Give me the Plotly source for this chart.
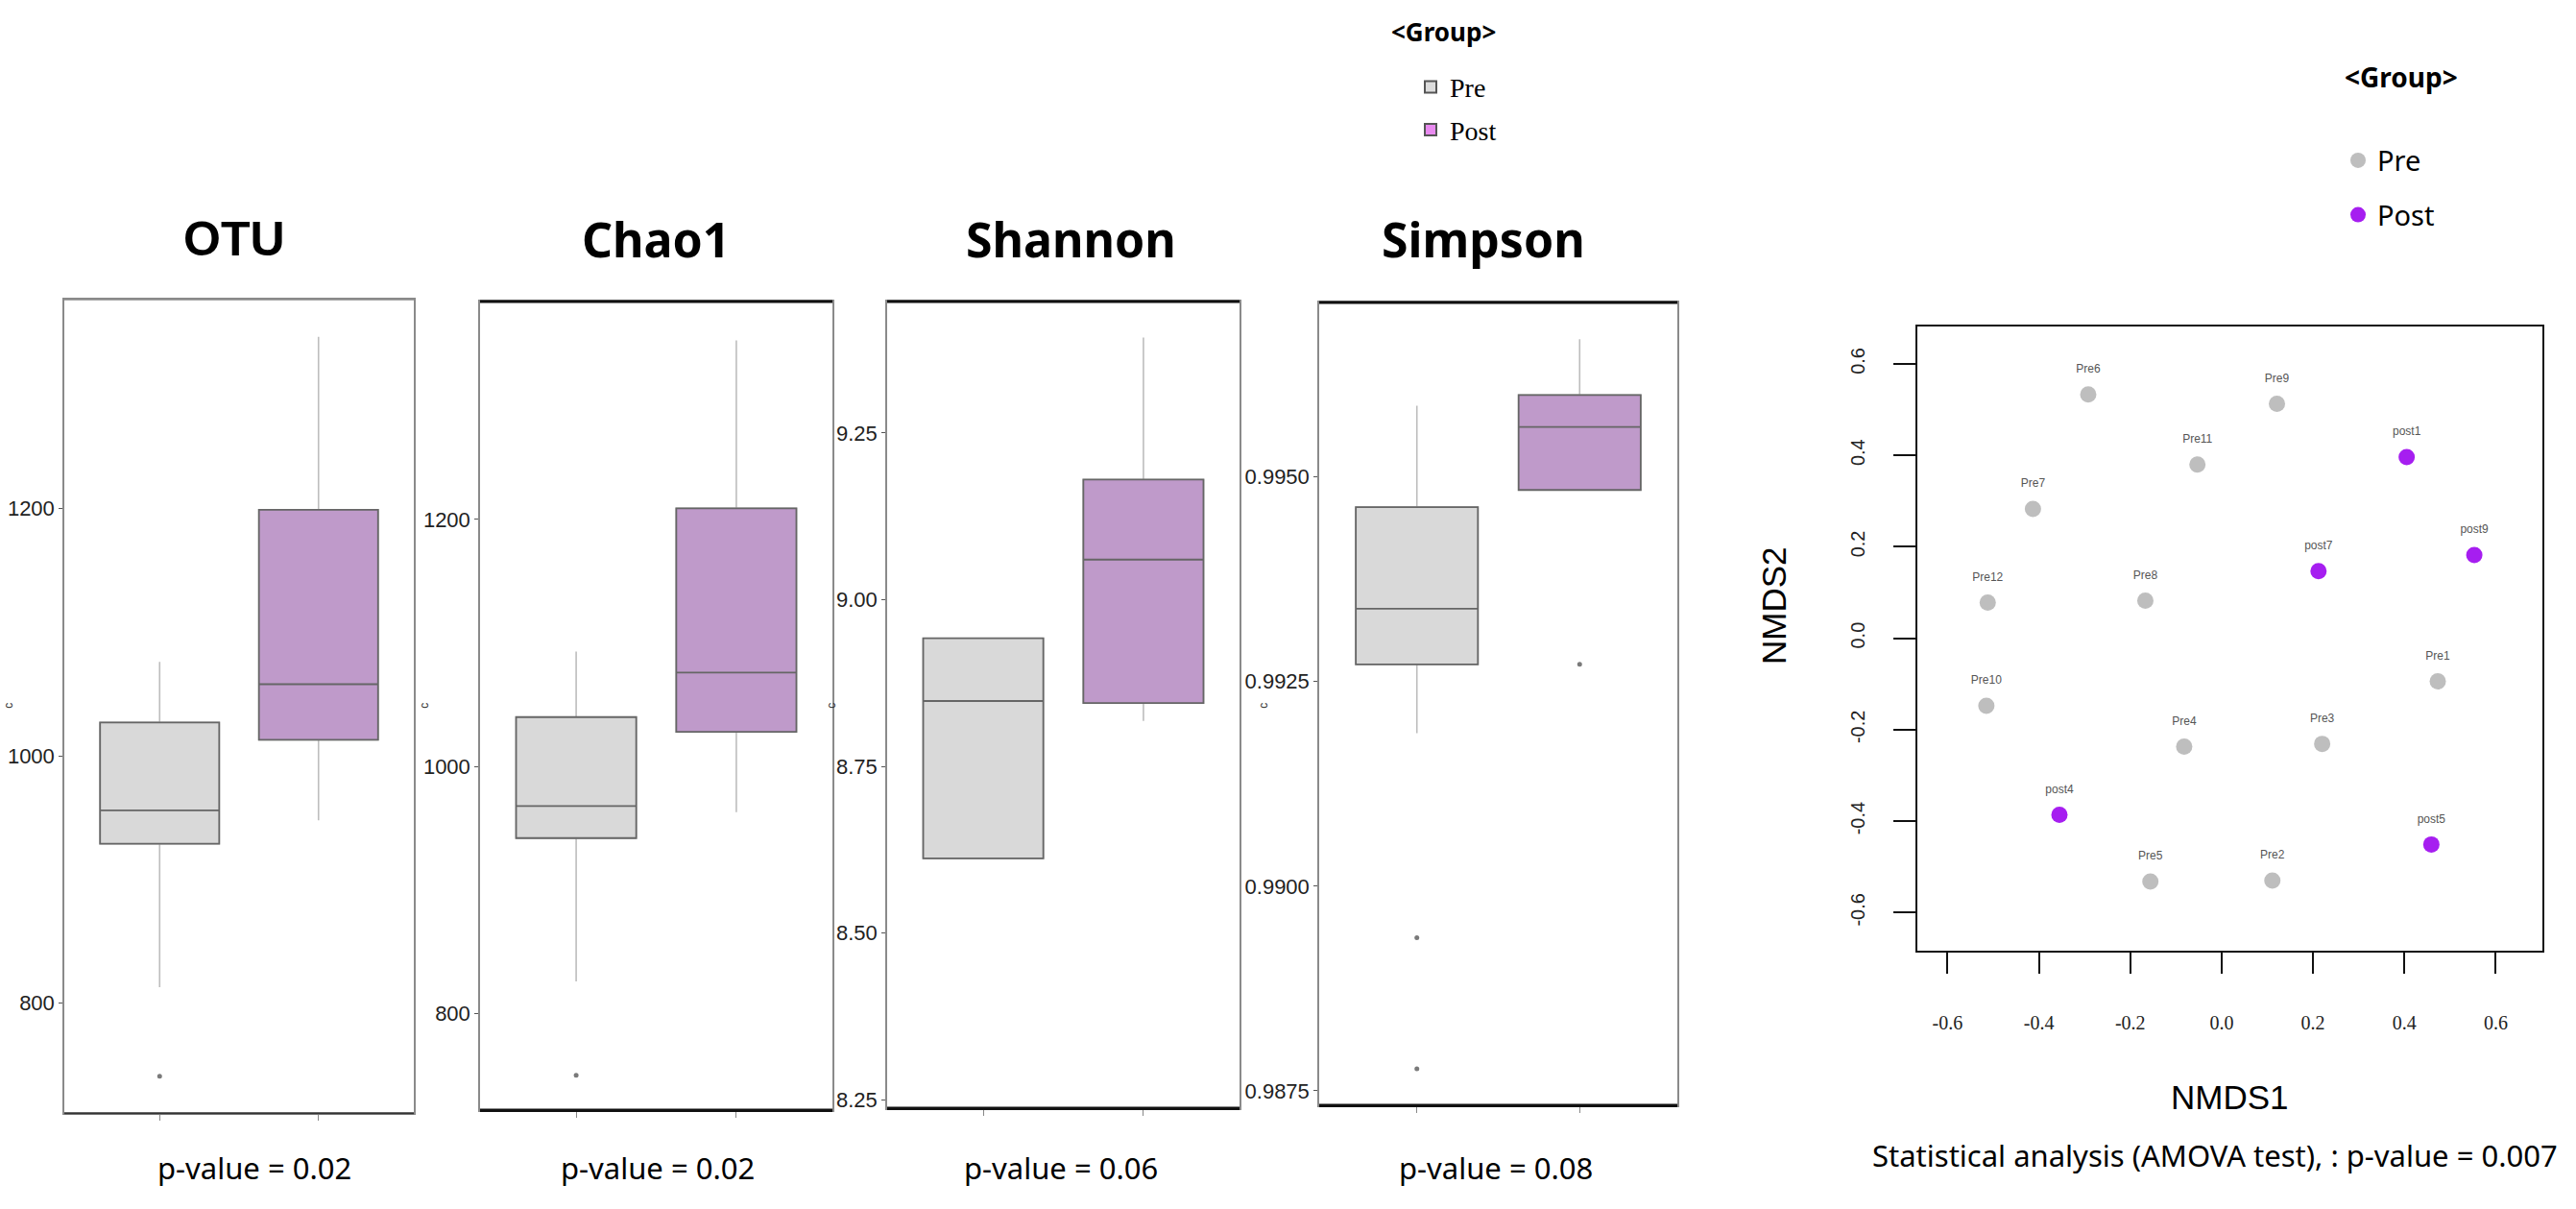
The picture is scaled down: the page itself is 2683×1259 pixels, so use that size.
import plotly.graph_objects as go

# ---------------- data ----------------
groups = ["Pre", "Post"]
metrics = ["OTU", "Chao1", "Shannon", "Simpson"]
p_values = ["0.02", "0.02", "0.06", "0.08"]

# box statistics per metric: [Pre, Post]
otu_q1 = [929, 1013]
otu_median = [956, 1058]
otu_q3 = [1027, 1199]
otu_lower = [813, 948]
otu_upper = [1076, 1339]
otu_outliers = [[741], []]

chao1_q1 = [942, 1028]
chao1_median = [968, 1076]
chao1_q3 = [1040, 1209]
chao1_lower = [826, 963]
chao1_upper = [1093, 1345]
chao1_outliers = [[750], []]

shannon_q1 = [8.612, 8.845]
shannon_median = [8.848, 9.060]
shannon_q3 = [8.942, 9.180]
shannon_lower = [8.612, 8.818]
shannon_upper = [8.942, 9.393]
shannon_outliers = [[], []]

simpson_q1 = [0.99271, 0.99484]
simpson_median = [0.99339, 0.99561]
simpson_q3 = [0.99463, 0.99600]
simpson_lower = [0.99187, 0.99484]
simpson_upper = [0.99587, 0.99668]
simpson_outliers = [[0.98937, 0.98777], [0.99271]]

otu_ticks = [800, 1000, 1200]
chao1_ticks = [800, 1000, 1200]
shannon_ticks = [8.25, 8.50, 8.75, 9.00, 9.25]
shannon_ticklabels = ["8.25", "8.50", "8.75", "9.00", "9.25"]
simpson_ticks = [0.9875, 0.9900, 0.9925, 0.9950]
simpson_ticklabels = ["0.9875", "0.9900", "0.9925", "0.9950"]

# NMDS ordination
nmds_labels = ["Pre6", "Pre7", "Pre12", "Pre8", "Pre9", "Pre11", "Pre1", "Pre10",
               "Pre4", "Pre3", "Pre5", "Pre2",
               "post1", "post7", "post9", "post4", "post5"]
nmds_group = ["Pre"] * 12 + ["Post"] * 5
nmds1 = [-0.292, -0.413, -0.512, -0.167, 0.121, -0.053, 0.473, -0.515,
         -0.082, 0.220, -0.156, 0.111,
         0.405, 0.212, 0.553, -0.355, 0.459]
nmds2 = [0.533, 0.283, 0.078, 0.082, 0.513, 0.380, -0.094, -0.148,
         -0.237, -0.231, -0.532, -0.530,
         0.396, 0.147, 0.182, -0.386, -0.451]
nmds_ticks = [-0.6, -0.4, -0.2, 0.0, 0.2, 0.4, 0.6]
nmds_ticklabels = ["-0.6", "-0.4", "-0.2", "0.0", "0.2", "0.4", "0.6"]

# ---------------- layout helpers ----------------
W, H = 2683, 1259
def px(x):
    return x / W
def py(y):
    return 1 - y / H

box_fill = {"Pre": "#D9D9D9", "Post": "#BF9ACA"}
legend_fill = {"Pre": "#DCDCDC", "Post": "#E98AF0"}
pt_color = {"Pre": "#BEBEBE", "Post": "#A61EF0"}

stats = [
    (otu_q1, otu_median, otu_q3, otu_lower, otu_upper, otu_outliers),
    (chao1_q1, chao1_median, chao1_q3, chao1_lower, chao1_upper, chao1_outliers),
    (shannon_q1, shannon_median, shannon_q3, shannon_lower, shannon_upper, shannon_outliers),
    (simpson_q1, simpson_median, simpson_q3, simpson_lower, simpson_upper, simpson_outliers),
]
panel_px = [  # left, right, top, bottom (pixels)
    (67, 431, 313, 1163),
    (500, 867, 315, 1160),
    (924, 1291, 315, 1158),
    (1374, 1747, 316, 1155),
]
yranges = [[711, 1369], [721.5, 1376.5], [8.237, 9.447], [0.98732, 0.99713]]
ytickvals = [otu_ticks, chao1_ticks, shannon_ticks, simpson_ticks]
yticktext = [[str(t) for t in otu_ticks], [str(t) for t in chao1_ticks],
             shannon_ticklabels, simpson_ticklabels]
title_x = [244, 683, 1115, 1545]
title_fonts = ["Liberation Sans", "Noto Sans", "Noto Sans", "Noto Sans"]
pval_x = [265, 685, 1105, 1558]

fig = go.Figure()
layout = {}
annotations = []
shapes = []

def note(text, x, y, size, family="Noto Sans", weight="normal", angle=0, color="black"):
    annotations.append(dict(text=text, x=px(x), y=py(y), xref="paper", yref="paper",
                            showarrow=False, xanchor="center", yanchor="middle",
                            textangle=angle,
                            font=dict(family=family, size=size, color=color, weight=weight)))

for i in range(4):
    q1, med, q3, lo, hi, outl = stats[i]
    ax = "" if i == 0 else str(i + 1)
    xa, ya = "x" + ax, "y" + ax
    for j, g in enumerate(groups):
        # whiskers (light)
        fig.add_trace(go.Box(
            x=[g], q1=[q1[j]], median=[med[j]], q3=[q3[j]],
            lowerfence=[lo[j]], upperfence=[hi[j]],
            fillcolor=box_fill[g], line=dict(color="#BDBDBD", width=1.6),
            whiskerwidth=0, width=0.75, boxpoints=False,
            xaxis=xa, yaxis=ya, showlegend=False, hoverinfo="skip"))
        # box body (darker outline)
        fig.add_trace(go.Box(
            x=[g], q1=[q1[j]], median=[med[j]], q3=[q3[j]],
            lowerfence=[q1[j]], upperfence=[q3[j]],
            fillcolor=box_fill[g], line=dict(color="#666666", width=1.8),
            whiskerwidth=0, width=0.75, boxpoints=False,
            xaxis=xa, yaxis=ya, showlegend=False))
        if outl[j]:
            fig.add_trace(go.Scatter(
                x=[g] * len(outl[j]), y=outl[j], mode="markers",
                marker=dict(color="#7A7A7A", size=5),
                xaxis=xa, yaxis=ya, showlegend=False))
    l, r, t, b = panel_px[i]
    layout["xaxis" + ax] = dict(
        domain=[px(l), px(r)], anchor=ya, type="category",
        categoryorder="array", categoryarray=groups, range=[-0.6, 1.6],
        showticklabels=False, ticks="outside", ticklen=6, tickcolor="#888888",
        showline=True, mirror=True, linecolor="#8A8A8A", linewidth=1.5,
        showgrid=False, zeroline=False, fixedrange=True)
    layout["yaxis" + ax] = dict(
        domain=[py(b), py(t)], anchor=xa, range=yranges[i],
        tickvals=ytickvals[i], ticktext=yticktext[i],
        ticks="outside", ticklen=4, tickcolor="#555555",
        tickfont=dict(family="Liberation Sans Narrow, Liberation Sans", size=22, color="#222222"),
        showline=True, mirror=True, linecolor="#8A8A8A", linewidth=1.5,
        showgrid=False, zeroline=False, fixedrange=True)
    # black top / bottom edges
    top_col = "#8A8A8A" if i == 0 else "#111111"
    shapes.append(dict(type="line", xref=xa + " domain", yref=ya + " domain",
                       x0=0, x1=1, y0=1, y1=1,
                       line=dict(color=top_col, width=1.5 if i == 0 else 3)))
    shapes.append(dict(type="line", xref=xa + " domain", yref=ya + " domain",
                       x0=0, x1=1, y0=0, y1=0,
                       line=dict(color="#333333" if i == 0 else "#111111",
                                 width=2 if i == 0 else 3.5)))
    note(metrics[i], title_x[i], 250, 50, family=title_fonts[i], weight="bold")
    note("p-value = " + p_values[i], pval_x[i], 1220, 31)
    note("c", l - 58, 737, 12, family="Liberation Sans", angle=-90, color="#333333")

# legend-only box traces on a hidden axis
for g in groups:
    fig.add_trace(go.Box(
        x=[g], q1=[0], median=[0], q3=[0], lowerfence=[0], upperfence=[0],
        fillcolor=legend_fill[g], line=dict(color="#555555", width=2),
        name=g, legendgroup="box" + g, xaxis="x6", yaxis="y6", legend="legend",
        showlegend=True, boxpoints=False, hoverinfo="skip"))
layout["xaxis6"] = dict(domain=[0, 0.001], anchor="y6", visible=False, range=[5, 6],
                        type="category", categoryarray=groups)
layout["yaxis6"] = dict(domain=[0, 0.001], anchor="x6", visible=False, range=[5, 6])

# NMDS scatter
for g in groups:
    idx = [k for k in range(len(nmds_labels)) if nmds_group[k] == g]
    fig.add_trace(go.Scatter(
        x=[nmds1[k] for k in idx], y=[nmds2[k] for k in idx],
        mode="markers", name=g, legendgroup="pt" + g,
        marker=dict(color=pt_color[g], size=17),
        xaxis="x5", yaxis="y5", legend="legend2"))
fig.add_trace(go.Scatter(
    x=nmds1, y=nmds2, text=nmds_labels, mode="markers+text", textposition="top center",
    marker=dict(size=30, color="rgba(0,0,0,0)"),
    textfont=dict(family="Liberation Sans", size=12, color="#555555"),
    xaxis="x5", yaxis="y5", showlegend=False, hoverinfo="skip"))

layout["xaxis5"] = dict(
    domain=[px(1997), px(2648)], anchor="y5", range=[-0.666, 0.702],
    tickvals=nmds_ticks, ticktext=nmds_ticklabels,
    ticks="outside", ticklen=22, tickwidth=2, tickcolor="#111111",
    ticklabelstandoff=34,
    tickfont=dict(family="Liberation Serif", size=20, color="#222222"),
    showline=True, mirror=True, linecolor="#111111", linewidth=2,
    showgrid=False, zeroline=False)
layout["yaxis5"] = dict(
    domain=[py(993), py(341)], anchor="x5", range=[-0.683, 0.682],
    tickvals=nmds_ticks, ticktext=nmds_ticklabels, tickangle=-90,
    ticks="outside", ticklen=23, tickwidth=2, tickcolor="#111111",
    ticklabelstandoff=22,
    tickfont=dict(family="Liberation Sans", size=20, color="#222222"),
    showline=True, mirror=True, linecolor="#111111", linewidth=2,
    showgrid=False, zeroline=False)

note("NMDS1", 2322, 1146, 35, family="Liberation Sans")
note("NMDS2", 1848, 633, 35, family="Liberation Sans", angle=-90)
note("Statistical analysis (AMOVA test), : p-value = 0.007", 2307, 1207, 31)
note("&lt;Group&gt;", 1503, 33, 26, weight="bold")
note("&lt;Group&gt;", 2501, 80, 28, weight="bold")

fig.update_layout(
    width=W, height=H, margin=dict(l=0, r=0, t=0, b=0),
    paper_bgcolor="white", plot_bgcolor="white",
    boxmode="overlay",
    annotations=annotations, shapes=shapes,
    legend=dict(x=px(1470), y=py(66), xanchor="left", yanchor="top",
                font=dict(family="Liberation Serif", size=28, color="black"),
                bgcolor="rgba(0,0,0,0)", tracegroupgap=5),
    legend2=dict(x=px(2436), y=py(142), xanchor="left", yanchor="top",
                 font=dict(family="Noto Sans", size=29, color="black"),
                 bgcolor="rgba(0,0,0,0)", tracegroupgap=16),
    **layout,
)

fig.write_html("out.html", config={"displayModeBar": False},
               post_script="document.body.style.margin='0';")
